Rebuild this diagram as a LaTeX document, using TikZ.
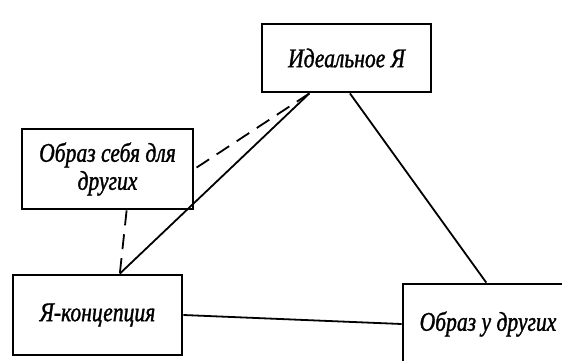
\documentclass[tikz,border=0pt]{standalone}
\usepackage{fontspec}
\setmainfont{Liberation Serif}
\newfontfamily\boxfont[FakeStretch=0.8, FakeBold=1.2]{Liberation Serif}
\usetikzlibrary{calc}

\begin{document}
\begin{tikzpicture}[
        x=1pt, y=-1pt,
        conceptbox/.style={draw=black, line width=2.8pt, fill=white, minimum width=169pt, minimum height=80pt, align=center, inner sep=0pt, font=\boxfont\itshape\fontsize{27}{28}\selectfont},
        link/.style={line width=1.8pt},
        dashlink/.style={line width=1.8pt, dash pattern=on 15pt off 9pt}
    ]
        \useasboundingbox (0,0) rectangle (562,360);
        \clip (0,0) rectangle (562,360);

        % Concept boxes
        \node[conceptbox, minimum height=68pt] (ideal) at (346.5,58) {Идеальное Я};
        \node[conceptbox, minimum width=171pt] (forothers) at (107.5,169) {Образ себя для\\других};
        \node[conceptbox] (selfconcept) at (97.5,315) {Я-концепция};
        \node[conceptbox, minimum width=170pt] (byothers) at (488,324) {Образ у других};

        % Solid links
        \draw[link] ($(ideal.south west)!0.284!(ideal.south east)$) -- ($(selfconcept.north west)!0.63!(selfconcept.north east)$);
        \draw[link] ($(ideal.south west)!0.52!(ideal.south east)$) -- ($(byothers.north west)!0.49!(byothers.north east)$);
        \draw[link] (selfconcept.east) -- (byothers.west);

        % Dashed links
        \draw[dashlink] ($(ideal.south west)!0.284!(ideal.south east)$) -- (forothers.east);
        \draw[dashlink] ($(forothers.south west)!0.61!(forothers.south east)$) -- ($(selfconcept.north west)!0.63!(selfconcept.north east)$);
    \end{tikzpicture}
\end{document}
